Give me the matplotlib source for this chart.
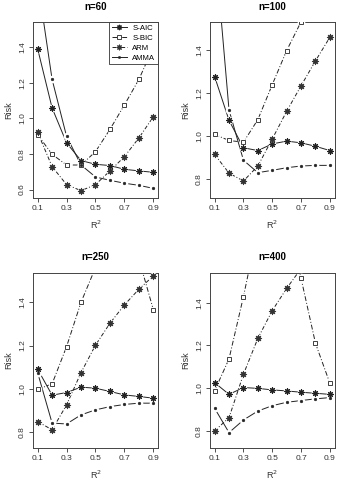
import matplotlib
matplotlib.use("Agg")
import matplotlib.pyplot as plt
import numpy as np

plt.rcParams['font.family'] = ['Liberation Sans', 'DejaVu Sans']

r2 = [0.1, 0.2, 0.3, 0.4, 0.5, 0.6, 0.7, 0.8, 0.9]
xticks = [0.1, 0.3, 0.5, 0.7, 0.9]
yticks = [0.6, 0.8, 1.0, 1.2, 1.4]

# n = 60
s_aic_60 = [1.39, 1.058, 0.862, 0.763, 0.742, 0.735, 0.714, 0.705, 0.697]
s_bic_60 = [0.908, 0.798, 0.738, 0.738, 0.813, 0.938, 1.075, 1.218, 1.40]
arm_60   = [0.921, 0.729, 0.628, 0.594, 0.628, 0.705, 0.785, 0.890, 1.009]
amma_60  = [1.77, 1.218, 0.899, 0.738, 0.671, 0.652, 0.636, 0.624, 0.607]

# n = 100
s_aic_100 = [1.276, 1.072, 0.944, 0.931, 0.962, 0.975, 0.967, 0.951, 0.931]
s_bic_100 = [1.006, 0.978, 0.970, 1.075, 1.238, 1.397, 1.531, 1.68, 1.80]
arm_100   = [0.913, 0.826, 0.789, 0.859, 0.985, 1.114, 1.233, 1.349, 1.459]
amma_100  = [1.90, 1.12, 0.886, 0.828, 0.839, 0.851, 0.859, 0.862, 0.862]

# n = 250
s_aic_250 = [1.091, 0.971, 0.983, 1.008, 1.003, 0.988, 0.972, 0.965, 0.957]
s_bic_250 = [0.998, 1.023, 1.195, 1.40, 1.56, 1.70, 1.70, 1.60, 1.365]
arm_250   = [0.849, 0.811, 0.926, 1.075, 1.202, 1.303, 1.388, 1.46, 1.522]
amma_250  = [1.075, 0.842, 0.838, 0.880, 0.903, 0.918, 0.928, 0.934, 0.934]

# n = 400
s_aic_400 = [1.026, 0.971, 1.003, 0.999, 0.992, 0.987, 0.981, 0.976, 0.971]
s_bic_400 = [0.988, 1.137, 1.428, 1.75, 1.90, 1.80, 1.514, 1.21, 1.023]
arm_400   = [0.80, 0.862, 1.065, 1.233, 1.363, 1.467, 1.56, 1.65, 1.73]
amma_400  = [0.906, 0.792, 0.851, 0.893, 0.918, 0.934, 0.942, 0.950, 0.956]

panels = [
    ("n=60",  s_aic_60,  s_bic_60,  arm_60,  amma_60,  (0.553, 1.54)),
    ("n=100", s_aic_100, s_bic_100, arm_100, amma_100, (0.71, 1.53)),
    ("n=250", s_aic_250, s_bic_250, arm_250, amma_250, (0.727, 1.535)),
    ("n=400", s_aic_400, s_bic_400, arm_400, amma_400, (0.72, 1.539)),
]

W, H = 339, 484
fig = plt.figure(figsize=(W / 100, H / 100), dpi=100)

boxes = [(33, 22, 158, 198), (210, 22, 334.5, 198),
         (33, 273, 158, 448), (210, 273, 334.5, 448)]

col = '#222222'
lw = 0.7
styles = {
    'S-AIC': dict(ls='-', marker=(8, 2, 0), ms=4.5, mfc=col, mec=col, mew=0.8),
    'S-BIC': dict(ls=(0, (5, 2, 1, 2)), marker='s', ms=3.3, mfc='white', mec=col, mew=0.6),
    'ARM':   dict(ls=(0, (4, 2, 1, 2)), marker=(8, 1, 0), ms=5.0, mfc='#333333', mec='#333333', mew=0.5),
    'AMMA':  dict(ls='-', marker='o', ms=2.0, mfc=col, mec=col, mew=0.3),
}

for i, (title, aic, bic, arm, amma, ylim) in enumerate(panels):
    l, t, r, b = boxes[i]
    ax = fig.add_axes([l / W, 1 - b / H, (r - l) / W, (b - t) / H])
    handles = []
    for name, vals in [('S-AIC', aic), ('S-BIC', bic), ('ARM', arm), ('AMMA', amma)]:
        st = styles[name]
        ax.plot(r2, vals, color=col, lw=lw, ls=st['ls'], zorder=2)
        # white gap around points (R type="b")
        ax.plot(r2, vals, ls='none', marker='o', ms=5.5, mfc='white', mec='none', zorder=3)
        ax.plot(r2, vals, ls='none', marker=st['marker'], ms=st['ms'],
                mfc=st['mfc'], mec=st['mec'], mew=st['mew'], zorder=4)
        h, = ax.plot([], [], color=col, lw=lw, ls=st['ls'], marker=st['marker'],
                     ms=st['ms'] * 0.85, mfc=st['mfc'], mec=st['mec'], mew=st['mew'])
        handles.append((h, name))
    ax.set_xticks(xticks)
    ax.set_xticklabels([f"{v:.1f}" for v in xticks])
    ax.set_yticks(yticks)
    ax.set_yticklabels([f"{v:.1f}" for v in yticks], rotation=90, va='center')
    ax.set_xlim(0.068, 0.932)
    ax.set_ylim(*ylim)
    ax.tick_params(direction='out', length=3, width=0.6, labelsize=6, colors='#333333', pad=2)
    for sp in ax.spines.values():
        sp.set_linewidth(0.7)
        sp.set_color('#444444')
    ax.set_xlabel("R$^2$", fontsize=6.5, labelpad=5, color='#333333')
    ax.set_ylabel("Risk", fontsize=6.5, labelpad=4, color='#333333')
    ax.set_title(title, fontsize=7, fontweight='bold', pad=9)
    if i == 0:
        leg = ax.legend([h for h, _ in handles], [n for _, n in handles],
                        loc='upper right', fontsize=5.6, frameon=True, fancybox=False,
                        framealpha=1, facecolor='white',
                        borderaxespad=0, handlelength=1.9, handletextpad=0.7,
                        labelspacing=0.3, borderpad=0.35, edgecolor='#333333')
        leg.get_frame().set_linewidth(0.6)
        leg.set_zorder(10)

fig.savefig("out.png", dpi=100)
